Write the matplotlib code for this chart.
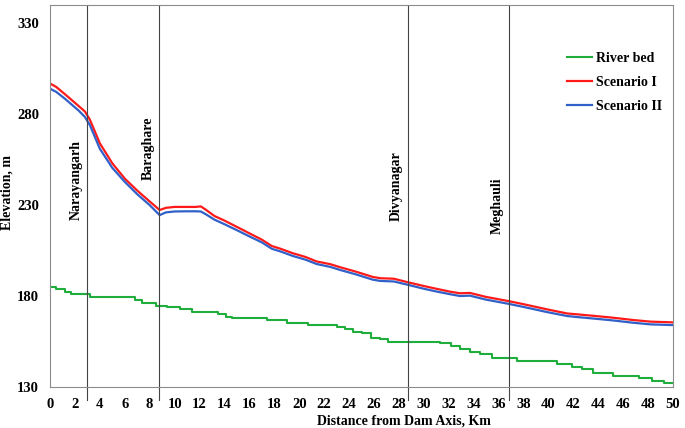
### Water surface profiles downstream of the dam, with river bed

import numpy as np
import matplotlib.pyplot as plt

plt.rcParams['font.family'] = ['Liberation Serif', 'DejaVu Serif']
plt.rcParams['font.weight'] = 'bold'

# river bed, stepped profile (distance km, elevation m)
bed_km = [0, 0.5, 1.2, 1.7, 3.2, 6.8, 7.4, 8.5, 9.4, 10.4, 11.4, 13.5, 14.1, 14.6,
          17.4, 19.0, 20.7, 23.0, 23.7, 24.3, 25.0, 25.8, 26.5, 27.1, 31.3, 32.2,
          32.9, 33.7, 34.5, 35.5, 37.5, 40.7, 41.9, 42.7, 43.6, 45.2, 47.3, 48.3,
          49.3, 50]
bed_elev = [185.1, 183.8, 182.4, 181.0, 179.2, 177.8, 176.0, 174.7, 173.8, 172.9,
            171.2, 170.0, 168.6, 167.7, 166.8, 165.0, 164.0, 163.1, 161.7, 160.4,
            159.5, 157.1, 156.2, 154.9, 154.0, 152.5, 151.0, 149.4, 148.1, 145.7,
            144.4, 142.6, 141.2, 139.9, 137.9, 136.0, 134.7, 133.3, 132.0, 132.0]

ws_km = [0, 0.5, 1.2, 2.3, 2.8, 3.2, 4, 5, 6, 7, 8, 8.8, 9.3, 10, 11, 11.7, 12.1,
         12.5, 13.2, 14, 15, 16, 17, 17.8, 18.5, 19.5, 20.5, 21.4, 22.5, 23.3,
         24.5, 25.9, 26.5, 27.6, 28.7, 30, 31, 32.1, 32.9, 33.7, 35, 36.8, 38, 40,
         41.5, 42.5, 43.3, 45, 46.8, 48.2, 50]
scen1 = [296.9, 295.0, 291.0, 284.5, 281.5, 277.0, 264.0, 253.0, 244.6, 238.0,
         232.0, 227.3, 228.5, 229.0, 229.0, 229.0, 229.3, 227.5, 224.0, 221.5,
         218.0, 214.5, 211.0, 207.5, 206.0, 203.5, 201.5, 199.0, 197.5, 195.8,
         193.5, 190.5, 189.8, 189.5, 187.6, 185.5, 184.0, 182.4, 181.5, 181.7,
         179.5, 177.2, 175.5, 172.5, 170.4, 169.8, 169.3, 168.2, 166.8, 165.9, 165.5]
scen2 = [294.0, 292.3, 288.5, 282.0, 278.5, 274.0, 261.0, 250.5, 242.8, 236.0,
         230.0, 224.5, 226.0, 226.5, 226.6, 226.6, 226.5, 225.0, 222.0, 219.5,
         216.2, 212.8, 209.5, 206.0, 204.5, 202.0, 200.0, 197.6, 196.0, 194.3,
         192.0, 189.0, 188.3, 188.0, 186.2, 184.0, 182.5, 181.0, 180.0, 180.2,
         178.0, 175.7, 174.0, 171.0, 169.0, 168.3, 167.8, 166.7, 165.3, 164.4, 164.0]

towns = ['Narayangarh', 'Baraghare', 'Divyanagar', 'Meghauli']
town_km = [3.0, 8.75, 28.7, 36.8]
town_label_y = [243.7, 261.3, 240.4, 229.7]


def main():
    fig = plt.figure(figsize=(6.85, 4.28), dpi=100)
    ax = fig.add_axes([0.073, 0.096, 0.9095, 0.892])

    ax.plot(bed_km, bed_elev, color='#1fae3c', lw=1.5, drawstyle='steps-post', label='River bed')
    ax.plot(ws_km, scen1, color='#ff1a1a', lw=1.6, label='Scenario I')
    ax.plot(ws_km, scen2, color='#3060c8', lw=1.6, label='Scenario II')

    for name, km, ly in zip(towns, town_km, town_label_y):
        ax.axvline(km, ymin=-0.034, ymax=1, color='#444444', lw=0.8, clip_on=False)
        ax.text(km - 0.35, ly, name, rotation=90, ha='right', va='center',
                fontsize=10, fontweight='bold')

    ax.set_xlim(0, 50)
    ax.set_ylim(130, 340)
    ax.set_xticks(np.arange(0, 51, 2))
    ax.set_yticks([130, 180, 230, 280, 330])
    ax.tick_params(length=0, labelsize=10.5)
    ax.tick_params(axis='x', pad=8)
    ax.tick_params(axis='y', pad=8)
    for s in ax.spines.values():
        s.set_color('#8c8c8c')
    ax.set_xlabel('Distance from Dam Axis, Km', fontsize=10, fontweight='bold')
    ax.xaxis.set_label_coords(0.568, -0.073)
    ax.set_ylabel('Elevation, m', fontsize=10, fontweight='bold')
    ax.yaxis.set_label_coords(-0.058, 0.51)

    ax.legend(loc='upper left', bbox_to_anchor=(0.81, 0.91), frameon=False,
              fontsize=10, handlelength=1.8, handletextpad=0.25, labelspacing=0.8)

    fig.savefig('out.png')
    plt.close(fig)
    return "saved out.png"


if __name__ == "__main__":
    print(main())
